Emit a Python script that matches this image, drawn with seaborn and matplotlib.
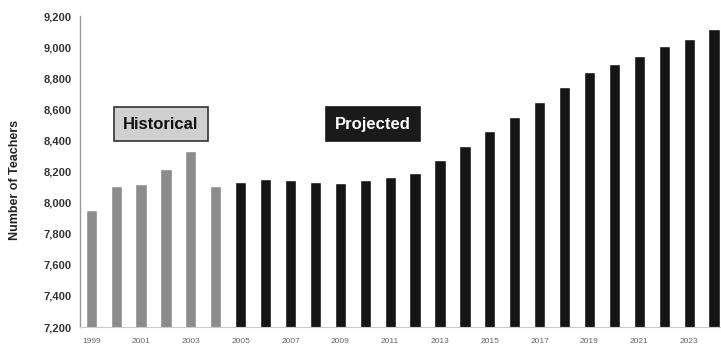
import matplotlib
matplotlib.use("Agg")
import matplotlib.pyplot as plt
import seaborn as sns
import pandas as pd

years = list(range(1999, 2025))
teachers = [7950, 8105, 8120, 8215, 8330, 8105,
            8130, 8150, 8145, 8130, 8125, 8145, 8165, 8190,
            8275, 8365, 8460, 8550, 8645, 8745, 8840, 8890,
            8945, 9005, 9050, 9115]
periods = ["Historical"] * 6 + ["Projected"] * 20
y_ticks = [7200, 7400, 7600, 7800, 8000, 8200, 8400, 8600, 8800, 9000, 9200]

df = pd.DataFrame({"year": [str(y) for y in years],
                   "teachers": teachers,
                   "period": periods})

sns.set_theme(style="white")
plt.rcParams["font.family"] = ["Liberation Sans", "DejaVu Sans"]

fig = plt.figure(figsize=(7.21, 3.52), dpi=100)
ax = fig.add_axes([80 / 721, 25 / 352, 641 / 721, 311 / 352])

sns.barplot(data=df, x="year", y="teachers", hue="period",
            palette={"Historical": "#8c8c8c", "Projected": "#151515"},
            dodge=False, width=0.45, legend=False, ax=ax)

ax.set_ylim(7200, 9200)
ax.set_xlim(-0.45, len(years) - 0.72)
ax.set_yticks(y_ticks)
ax.set_yticklabels([f"{v:,}" for v in y_ticks], fontsize=8,
                   fontweight="bold", color="#333333")
ax.set_xticks(range(0, len(years), 2))
ax.set_xticklabels([str(y) for y in years[::2]], fontsize=6, color="#666666")
ax.tick_params(axis="x", length=0, pad=8)
ax.tick_params(axis="y", length=0, pad=6)
ax.set_xlabel("")
ax.set_ylabel("")
fig.text(15 / 721, 1 - 180 / 352, "Number of Teachers", rotation=90,
         ha="center", va="center", fontsize=9, fontweight="bold",
         color="#222222")

for side in ("top", "right"):
    ax.spines[side].set_visible(False)
ax.spines["left"].set_color("#999999")
ax.spines["left"].set_linewidth(1.0)
ax.spines["bottom"].set_color("#cccccc")
ax.spines["bottom"].set_linewidth(0.8)

ax.text(2.8, 8505, "Historical", ha="center", va="center", fontsize=12,
        fontweight="bold", color="#111111",
        bbox=dict(boxstyle="square,pad=0.55", facecolor="#d0d0d0",
                  edgecolor="#333333", linewidth=1.2))
ax.text(11.3, 8505, "Projected", ha="center", va="center", fontsize=12,
        fontweight="bold", color="white",
        bbox=dict(boxstyle="square,pad=0.55", facecolor="#1a1a1a",
                  edgecolor="#1a1a1a", linewidth=1.2))

fig.savefig("out.png", dpi=100)
